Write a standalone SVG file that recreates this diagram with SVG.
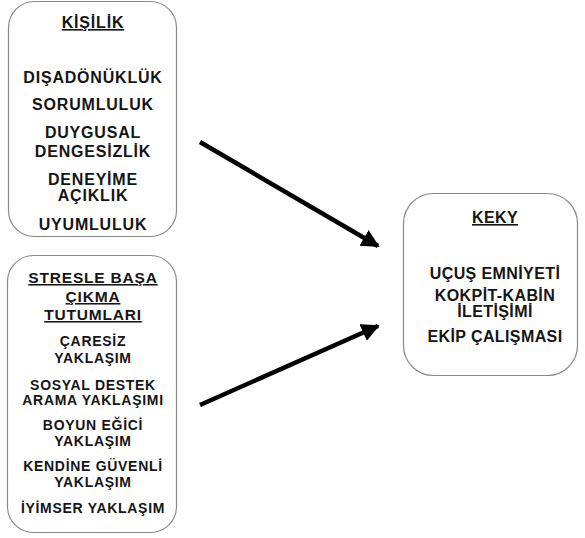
<svg xmlns="http://www.w3.org/2000/svg" width="585" height="538" viewBox="0 0 585 538">
<defs>
<style>
.box{fill:#fff;stroke:#8a8a8a;stroke-width:1.2}
.t{font-family:"Liberation Sans",Arial,sans-serif;font-weight:bold;fill:#151515;text-anchor:middle}
.a{font-size:16px;letter-spacing:0.8px}
.c{font-size:16px;letter-spacing:0.4px}
.b{font-size:14px;letter-spacing:0.7px}
.h{font-size:15.5px;letter-spacing:0.8px}
.u{text-decoration:underline}
.conn{stroke:#000;stroke-width:4.5;fill:none}
</style>
<marker id="ah" markerWidth="4" markerHeight="4" refX="3.6" refY="2" orient="auto" markerUnits="strokeWidth" viewBox="0 0 4 4">
<path d="M0,0 L4,2 L0,4 z" fill="#000"/>
</marker>
</defs>
<rect width="585" height="538" fill="#fff"/>
<g id="kisilik">
<rect class="box" x="8.5" y="1.5" width="168" height="235" rx="26"/>
<text class="t a u" x="93" y="28">KİŞİLİK</text>
<text class="t a" x="93" y="83">DIŞADÖNÜKLÜK</text>
<text class="t a" x="93" y="110">SORUMLULUK</text>
<text class="t a" x="93" y="138">DUYGUSAL</text>
<text class="t a" x="93" y="157">DENGESİZLİK</text>
<text class="t a" x="93" y="185">DENEYİME</text>
<text class="t a" x="93" y="201">AÇIKLIK</text>
<text class="t a" x="93" y="230">UYUMLULUK</text>
</g>
<g id="stres">
<rect class="box" x="7.5" y="255.5" width="169" height="277" rx="26"/>
<text class="t h u" x="93" y="283">STRESLE BAŞA</text>
<text class="t h u" x="93" y="302">ÇIKMA</text>
<text class="t h u" x="93" y="320">TUTUMLARI</text>
<text class="t b" x="93" y="346">ÇARESİZ</text>
<text class="t b" x="93" y="363">YAKLAŞIM</text>
<text class="t b" x="93" y="390">SOSYAL DESTEK</text>
<text class="t b" x="93" y="405">ARAMA YAKLAŞIMI</text>
<text class="t b" x="93" y="430">BOYUN EĞİCİ</text>
<text class="t b" x="93" y="446">YAKLAŞIM</text>
<text class="t b" x="93" y="471">KENDİNE GÜVENLİ</text>
<text class="t b" x="93" y="487">YAKLAŞIM</text>
<text class="t b" x="93" y="513">İYİMSER YAKLAŞIM</text>
</g>
<g id="keky">
<rect class="box" x="403.5" y="193.5" width="174" height="182" rx="30"/>
<text class="t c u" x="495" y="223">KEKY</text>
<text class="t c" x="495" y="279">UÇUŞ EMNİYETİ</text>
<text class="t c" x="495" y="301">KOKPİT-KABİN</text>
<text class="t c" x="495" y="317">İLETİŞİMİ</text>
<text class="t c" x="495" y="342">EKİP ÇALIŞMASI</text>
</g>
<g id="connectors">
<line class="conn" x1="200" y1="142" x2="378" y2="246" marker-end="url(#ah)"/>
<line class="conn" x1="200" y1="405" x2="378" y2="326" marker-end="url(#ah)"/>
</g>
</svg>
